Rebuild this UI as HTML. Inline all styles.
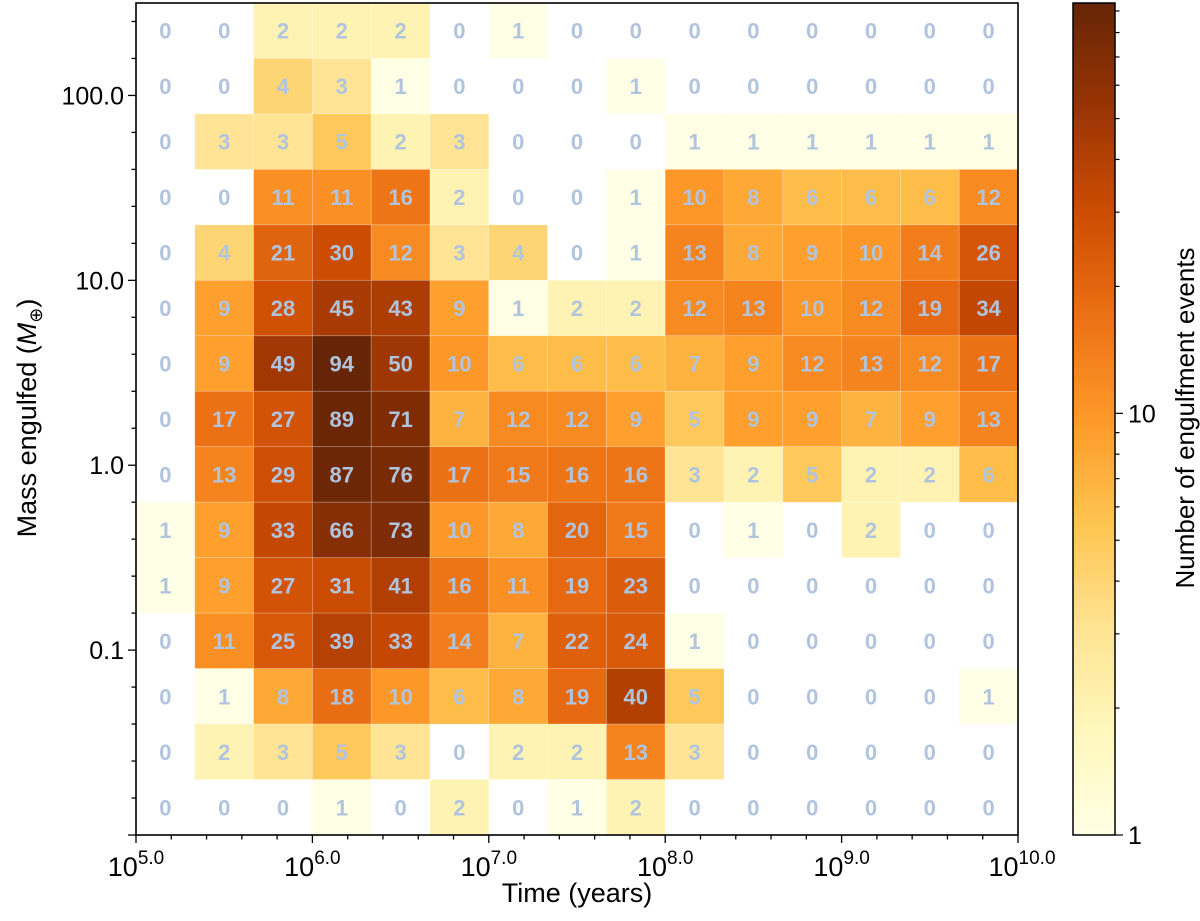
<!DOCTYPE html>
<html><head><meta charset="utf-8">
<style>
html,body{margin:0;padding:0;background:#fff;}
svg{display:block;font-family:"Liberation Sans","DejaVu Sans",sans-serif;}
</style></head>
<body>
<svg id="chart" width="1200" height="921" viewBox="0 0 1200 921" xmlns="http://www.w3.org/2000/svg">
<defs>
<linearGradient id="cbgrad" x1="0" y1="1" x2="0" y2="0">
<stop offset="0" stop-color="#ffffe5"/><stop offset="0.125" stop-color="#fff7bc"/><stop offset="0.25" stop-color="#fee391"/><stop offset="0.375" stop-color="#fec44f"/><stop offset="0.5" stop-color="#fe9929"/><stop offset="0.625" stop-color="#ec7014"/><stop offset="0.75" stop-color="#cc4c02"/><stop offset="0.875" stop-color="#993404"/><stop offset="1" stop-color="#662506"/>
</linearGradient>
</defs>
<g id="cells"></g>
<g id="labels"></g>
<g id="axes"></g>
<text transform="translate(36,418) rotate(-90)" text-anchor="middle" font-size="27" fill="#000">Mass engulfed (<tspan font-style="italic">M</tspan><tspan font-size="18" dy="6">⊕</tspan><tspan dy="-6">)</tspan></text>
<text x="577" y="902" text-anchor="middle" font-size="27" fill="#000">Time (years)</text>
<rect x="1073" y="3" width="42" height="832" fill="url(#cbgrad)" stroke="#000" stroke-width="1.5"/>
<g id="cbaxis"></g>
<text transform="translate(1194,418) rotate(-90)" text-anchor="middle" font-size="26" fill="#000">Number of engulfment events</text>
</svg>
<script>
// Counts: rows top (highest mass) to bottom, columns left (10^5) to right (10^10)
const row0  = [0,0,2,2,2,0,1,0,0,0,0,0,0,0,0];
const row1  = [0,0,4,3,1,0,0,0,1,0,0,0,0,0,0];
const row2  = [0,3,3,5,2,3,0,0,0,1,1,1,1,1,1];
const row3  = [0,0,11,11,16,2,0,0,1,10,8,6,6,6,12];
const row4  = [0,4,21,30,12,3,4,0,1,13,8,9,10,14,26];
const row5  = [0,9,28,45,43,9,1,2,2,12,13,10,12,19,34];
const row6  = [0,9,49,94,50,10,6,6,6,7,9,12,13,12,17];
const row7  = [0,17,27,89,71,7,12,12,9,5,9,9,7,9,13];
const row8  = [0,13,29,87,76,17,15,16,16,3,2,5,2,2,6];
const row9  = [1,9,33,66,73,10,8,20,15,0,1,0,2,0,0];
const row10 = [1,9,27,31,41,16,11,19,23,0,0,0,0,0,0];
const row11 = [0,11,25,39,33,14,7,22,24,1,0,0,0,0,0];
const row12 = [0,1,8,18,10,6,8,19,40,5,0,0,0,0,1];
const row13 = [0,2,3,5,3,0,2,2,13,3,0,0,0,0,0];
const row14 = [0,0,0,1,0,2,0,1,2,0,0,0,0,0,0];
const counts = [row0,row1,row2,row3,row4,row5,row6,row7,row8,row9,row10,row11,row12,row13,row14];
const xTickLabels = ["5.0","6.0","7.0","8.0","9.0","10.0"];
const yTickLabels = ["0.1","1.0","10.0","100.0"];
const cbTickLabels = ["1","10"];

const NS="http://www.w3.org/2000/svg";
const X0=136,X1=1018,Y0=3,Y1=835;
const xMin=5,xMax=10,yMin=-2,yMax=2.5;
function xs(l){return X0+(l-xMin)/(xMax-xMin)*(X1-X0);}
function ys(l){return Y1-(l-yMin)/(yMax-yMin)*(Y1-Y0);}
const cMax=Math.log10(94);
function cbY(l){return 835-l/cMax*832;}
const stops=["#ffffe5","#fff7bc","#fee391","#fec44f","#fe9929","#ec7014","#cc4c02","#993404","#662506"].map(h=>[parseInt(h.slice(1,3),16),parseInt(h.slice(3,5),16),parseInt(h.slice(5,7),16)]);
function color(v){
  let t=Math.max(0,Math.min(1,Math.log10(v)/cMax))*(stops.length-1);
  let i=Math.min(Math.floor(t),stops.length-2),f=t-i;
  const c=stops[i].map((a,k)=>Math.round(a+(stops[i+1][k]-a)*f));
  return `rgb(${c[0]},${c[1]},${c[2]})`;
}
function mk(tag,attrs,parent){const e=document.createElementNS(NS,tag);for(const k in attrs)e.setAttribute(k,attrs[k]);parent.appendChild(e);return e;}
const nR=counts.length,nC=counts[0].length;
const dx=(xMax-xMin)/nC,dy=(yMax-yMin)/nR;
const gC=document.getElementById('cells'),gL=document.getElementById('labels');
counts.forEach((row,r)=>{
  row.forEach((v,c)=>{
    const lx0=xMin+c*dx,lx1=lx0+dx;
    const ly1=yMax-r*dy,ly0=ly1-dy;
    const x=xs(lx0),w=xs(lx1)-x,y=ys(ly1),h=ys(ly0)-y;
    if(v>0){
      const rc=mk('rect',{x:x,y:y,width:w,height:h,fill:color(v),stroke:'rgba(255,255,255,0.25)','stroke-width':0.8},gC);
      
      
    }
    const t=mk('text',{x:x+w/2,y:y+h/2+8,'text-anchor':'middle','font-size':22,'font-weight':'bold',fill:'#b0c4de'},gL);
    
    
    t.textContent=String(v);
  });
});
const gA=document.getElementById('axes');
mk('rect',{x:X0,y:Y0,width:X1-X0,height:Y1-Y0,fill:'none',stroke:'#000','stroke-width':1.6},gA);
// x ticks
for(let k=0;k<=25;k++){
  const l=xMin+k*0.2,x=xs(l),major=(k%5===0);
  mk('line',{x1:x,x2:x,y1:Y1,y2:Y1+(major?8:4.5),stroke:'#000','stroke-width':1.3},gA);
}
xTickLabels.forEach((s,i)=>{
  const x=xs(xMin+i);
  const t=mk('text',{x:x+(s.length>3?4:0),y:876,'text-anchor':'middle','font-size':27,fill:'#000'},gA);
  
  
  t.innerHTML=`10<tspan font-size="19" dy="-12">${s}</tspan>`;
});
// y ticks
for(let k=0;k<=22;k++){
  const l=yMin+k*0.2,y=ys(l),major=(Math.abs(l-Math.round(l))<1e-6);
  if(y<Y0-0.5)continue;
  mk('line',{x1:X0,x2:X0-(major?8:4.5),y1:y,y2:y,stroke:'#000','stroke-width':1.3},gA);
}
yTickLabels.forEach((s,i)=>{
  const y=ys(-1+i);
  const t=mk('text',{x:124,y:y+9,'text-anchor':'end','font-size':25,fill:'#000'},gA);
  
  
  t.textContent=s;
});
// colorbar ticks
const gB=document.getElementById('cbaxis');
for(let m=1;m<=90;m++){
  if(m>10&&m%10)continue;
  if(m<10&&m<2)continue;
  const l=Math.log10(m);if(l>cMax)continue;
  const major=(m===10);
  const y=cbY(l);
  mk('line',{x1:1115,x2:1115+(major?8:4.5),y1:y,y2:y,stroke:'#000','stroke-width':1.2},gB);
}
mk('line',{x1:1115,x2:1123,y1:835,y2:835,stroke:'#000','stroke-width':1.2},gB);
cbTickLabels.forEach((s,i)=>{
  const t=mk('text',{x:1128,y:cbY(i)+9,'font-size':25,fill:'#000'},gB);
  
  
  t.textContent=s;
});
</script>
</body></html>
